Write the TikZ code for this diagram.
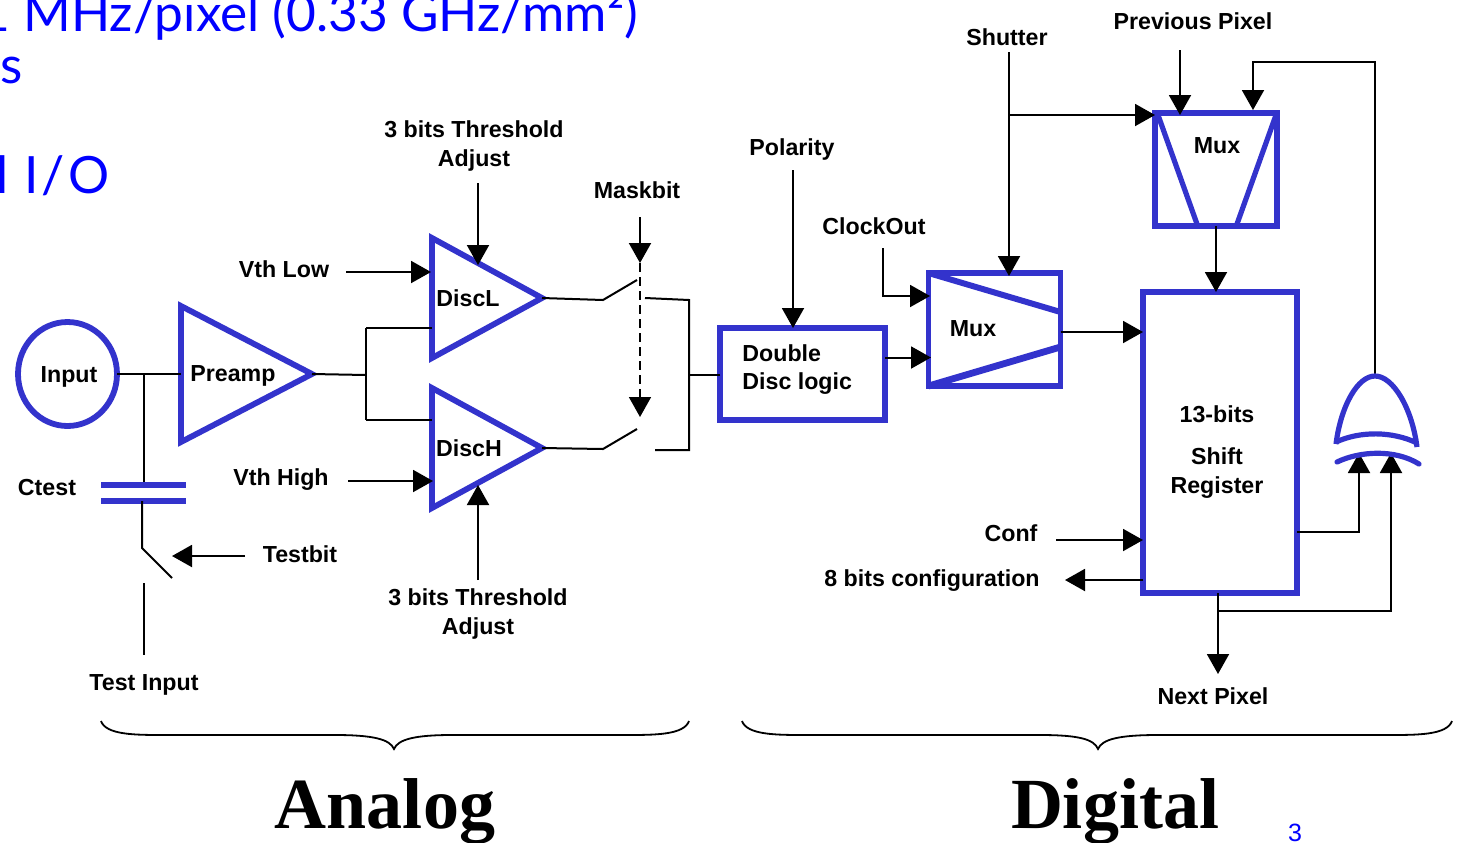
\documentclass[tikz,border=0pt]{standalone}
\usepackage{fontspec}
\setmainfont{Liberation Sans}
\newfontfamily\titlefont{Liberation Serif}
\newfontfamily\slidefont{Lato}
\usetikzlibrary{arrows.meta,positioning,shapes.geometric}
\definecolor{gateblue}{HTML}{3333CC}

\begin{document}
\begin{tikzpicture}[
  x=0.5pt, y=-0.5pt,
  font=\fontsize{11.6}{14.2}\selectfont\bfseries,
  lbl/.style={inner sep=0pt, align=center},
  gate/.style={draw=gateblue, line width=2.9pt, inner sep=0pt, outer sep=0pt},
  blk/.style={gate, rectangle},
  tri/.style={gate, isosceles triangle, isosceles triangle stretches, anchor=lower side},
  edge/.style={draw=gateblue, line width=2.6pt},
  wire/.style={line width=1pt},
  arr/.style={wire, -{Triangle[length=10pt, width=11pt]}},
  slide/.style={text=blue, inner sep=0pt, anchor=base west, font=\slidefont\fontsize{25.7}{30}\selectfont},
  bigword/.style={inner sep=0pt, anchor=base, font=\titlefont\bfseries\fontsize{36}{40}\selectfont}
]
  \path[use as bounding box, clip] (0,0) rectangle (1458,842);

  \node[slide] (rate) at (-20,31) {1 MHz/pixel (0.33 GHz/mm²)};
  \node[slide] (ess) at (0,83) {s};
  \node[slide] (io) at (-4,193) {l\hspace{8pt}I\hspace{1.5pt}/\hspace{1.5pt}O};

  % analog part
  \node[gate, ellipse, minimum width=49.5pt, minimum height=52pt] (input) at (67.5,374) {};
  \node[lbl] at (69,377) (inputtxt) {Input};
  \node[tri, minimum height=65.5pt, minimum width=68pt] (preamp) at (181,374) {};
  \node[lbl] (preamptxt) at (233,376) {Preamp};
  \node[tri, minimum height=55pt, minimum width=60pt] (discl) at (432,298) {};
  \node[lbl] (discltxt) at (468,298) {DiscL};
  \node[tri, minimum height=55pt, minimum width=60pt] (disch) at (432,448) {};
  \node[lbl] (dischtxt) at (469,448) {DiscH};

  \node[lbl] (adjl) at (474,146) {3 bits Threshold\\Adjust};
  \node[lbl] (adjh) at (478,614) {3 bits Threshold\\Adjust};
  \node[lbl] (vthlow) at (284,269) {Vth Low};
  \node[lbl] (vthhigh) at (281,480) {Vth High};
  \node[lbl] (maskbit) at (637,190) {Maskbit};
  \node[lbl] (ctest) at (47,488) {Ctest};
  \node[lbl] (testbit) at (300,554) {Testbit};
  \node[lbl] (testin) at (144,685) {Test Input};

  \coordinate (vthlowin) at (346,272);
  \coordinate (vthhighin) at (348,481);
  \coordinate (adjlin) at (478,183);
  \coordinate (adjhin) at (478,580);
  \coordinate (maskin) at (640,217);
  \coordinate (masktop) at (640,263);
  \coordinate (maskend) at (640,417);
  \coordinate (split) at (366,375);
  \coordinate (ctop) at (144,482);
  \coordinate (cbot) at (142,501);
  \coordinate (swa) at (142,548);
  \coordinate (swb) at (172,578);
  \coordinate (swc) at (144,583);
  \coordinate (swd) at (144,655);
  \coordinate (testbitin) at (245,556);
  \coordinate (lsw) at (603,300);
  \coordinate (lswup) at (637,280);
  \coordinate (hsw) at (603,449);
  \coordinate (hswup) at (637,429);
  \coordinate (lout) at (645,298);
  \coordinate (lcorner) at (689,300);
  \coordinate (hout) at (655,450);
  \coordinate (hcorner) at (689,450);

  \draw[wire] (input.east) -- (input.east -| preamp.lower side);
  \draw[wire] (144,375) -- (ctop);
  \draw[edge, line width=3pt] (101,485) -- (186,485);
  \draw[edge, line width=3pt] (101,501) -- (186,501);
  \draw[wire] (cbot) -- (swa) -- (swb);
  \draw[wire] (swc) -- (swd);
  \draw[arr] (testbitin) -- (testbitin -| swb);

  \draw[wire] (preamp.apex) -- (split);
  \draw[wire] (split |- 0,328) -- (0,328 -| discl.lower side);
  \draw[wire] (split |- 0,420) -- (0,420 -| disch.lower side);
  \draw[wire] (split |- 0,328) -- (split |- 0,420);
  \draw[arr] (vthlowin) -- (431,272);
  \draw[arr] (vthhighin) -- (433,481);
  \draw[arr] (adjlin) -- ([yshift=1.5pt]adjlin |- discl.left side);
  \draw[arr] (adjhin) -- ([yshift=-3.5pt]adjhin |- disch.right side);

  \draw[wire] (discl.apex) -- (lsw) -- (lswup);
  \draw[wire] (disch.apex) -- (hsw) -- (hswup);
  \draw[arr] (maskin) -- (masktop);
  \draw[arr, line width=0.8pt, dash pattern=on 4.5pt off 2.5pt] (masktop) -- (maskend);
  \draw[wire] (lout) -- (lcorner) -- (hcorner) -- (hout);

  \draw[line width=0.9pt] (101,721) .. controls (106,735) and (135,735) .. (165,735)
    -- (335,735) .. controls (372,735) and (390,739) .. (394,749)
    .. controls (398,739) and (416,735) .. (452,735)
    -- (625,735) .. controls (655,735) and (684,735) .. (689,721);
  \node[bigword] (analog) at (385,828) {Analog};

  % digital part
  \node[blk, minimum width=82.5pt, minimum height=46pt] (dbl) at (802.5,374) {};
  \node[lbl, align=left, anchor=west] (dbltxt) at (742,369.5) {Double\\Disc logic};
  \node[blk, minimum width=66pt, minimum height=56.5pt] (muxa) at (994.5,329.5) {};
  \node[lbl] (muxatxt) at (973,329) {Mux};
  \node[blk, minimum width=61pt, minimum height=56.5pt] (muxb) at (1216,169.5) {};
  \node[lbl] (muxbtxt) at (1217,146) {Mux};
  \node[blk, minimum width=77pt, minimum height=150.5pt] (shreg) at (1220,442.5) {};
  \node[lbl] (shregtxt) at (1217,452) {13-bits\\[7pt]Shift\\Register};

  \draw[edge, line width=3pt] (muxa.north west) -- (muxa.east |- 0,312);
  \draw[edge, line width=3.4pt] (muxa.south west) -- (muxa.east |- 0,347);
  \draw[edge] (1158,115) -- (1197,224);
  \draw[edge] (1276,115) -- (1237,224);

  \node[lbl] (polarity) at (792,149) {Polarity};
  \node[lbl] (clkout) at (874,226) {ClockOut};
  \node[lbl] (shutter) at (1007,37) {Shutter};
  \node[lbl] (prevpix) at (1193,21) {Previous Pixel};
  \node[lbl] (conf) at (1011,533) {Conf};
  \node[lbl] (confbits) at (932,581) {8 bits configuration};
  \node[lbl] (nextpix) at (1213,696) {Next Pixel};

  \coordinate (polin) at (793,170);
  \coordinate (clkin) at (883,248);
  \coordinate (shutin) at (1009,52);
  \coordinate (shutsplit) at (1009,115);
  \coordinate (previn) at (1180,50);
  \coordinate (confin) at (1056,540);
  \coordinate (confout) at (1065,580);
  \coordinate (nextout) at (1218,674);
  \coordinate (xortop) at (1375,376);
  \coordinate (xora) at (1359,453);
  \coordinate (xorb) at (1391,453);
  \coordinate (loopin) at (1253,110);

  \draw[wire] (dbl.west |- 0,375) -- (689,375);
  \draw[arr] (polin) -- (polin |- dbl.north);
  \draw[arr] (clkin) |- (930,296);
  \draw[arr] (dbl.east |- 0,357.5) -- (931,357.5);
  \draw[arr] (muxa.east |- 0,332) -- (shreg.west |- 0,332);
  \draw[arr] (shutin) -- (1009,276);
  \draw[arr] (shutsplit) -- (muxb.west |- shutsplit);
  \draw[arr] (previn) -- (1180,115);
  \draw[arr] (xortop) |- (1253,62) -- (loopin);
  \draw[arr] (muxb.south -| 1216,0) -- (1216,292);
  \draw[arr] (confin) -- (confin -| shreg.west);
  \draw[arr] (shreg.west |- confout) -- (confout);
  \draw[arr] (shreg.east |- 0,532) -| (xora);
  \draw[arr] (1218,593) -- (nextout);
  \draw[arr] (1218,611) -| (xorb);

  \draw[edge] (1336,444) .. controls (1341,405) and (1358,376) .. (xortop)
    .. controls (1393,376) and (1412,408) .. (1417,447);
  \draw[edge] (1336,442) .. controls (1360,431) and (1392,431) .. (1417,443);
  \draw[edge, line cap=round] (1337,462) .. controls (1360,451) and (1395,449) .. (1419,464);

  \draw[line width=0.9pt] (742,721) .. controls (747,735) and (776,735) .. (806,735)
    -- (1040,735) .. controls (1078,735) and (1094,739) .. (1098,749)
    .. controls (1102,739) and (1120,735) .. (1158,735)
    -- (1388,735) .. controls (1418,735) and (1447,735) .. (1452,721);
  \node[bigword] (digital) at (1115,828) {Digital};
  \node[inner sep=0pt, anchor=base, text=blue, font=\fontsize{12.5}{14}\selectfont] (pageno) at (1295,841) {3};
\end{tikzpicture}
\end{document}
